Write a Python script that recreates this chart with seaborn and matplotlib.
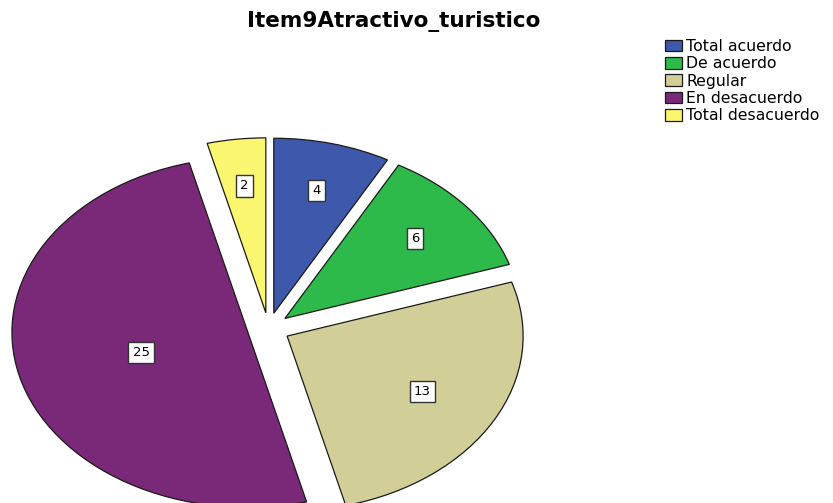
import numpy as np
import matplotlib
matplotlib.use('Agg')
import matplotlib.pyplot as plt
import seaborn as sns

# data
categories = ['Total acuerdo', 'De acuerdo', 'Regular', 'En desacuerdo', 'Total desacuerdo']
counts = [4, 6, 13, 25, 2]
colors = ['#3E58AC', '#2EB94B', '#D2CE98', '#7A2878', '#FBF66F']
title = 'Item9Atractivo_turistico'

sns.set_theme(style='white')
plt.rcParams['font.family'] = ['DejaVu Sans']
plt.rcParams['text.color'] = 'black'

fig = plt.figure(figsize=(8.33, 5.03), dpi=100)

# axes sized so the pie becomes a horizontally stretched ellipse (SPSS look)
W, H = 833, 503
cx, cy = 268.5, 328.5      # pie centre in pixels (from top-left)
rx, ry = 236, 175          # ellipse radii in pixels
L = 1.15
ax = fig.add_axes([(cx - L * rx) / W, (H - cy - L * ry) / H, 2 * L * rx / W, 2 * L * ry / H])

wedges, _ = ax.pie(counts, colors=sns.color_palette(colors), startangle=90, counterclock=False,
                   explode=[0.09] * len(counts),
                   wedgeprops=dict(edgecolor='#1a1a1a', linewidth=0.9))
ax.set_aspect('auto')
ax.set_xlim(-L, L)
ax.set_ylim(-L, L)
ax.axis('off')

# value labels near each wedge's centroid
for w, n in zip(wedges, counts):
    span = np.radians(w.theta2 - w.theta1)
    mid = np.radians((w.theta1 + w.theta2) / 2)
    rc = 4 * np.sin(span / 2) / (3 * span) * 1.1 * w.r
    x = w.center[0] + rc * np.cos(mid)
    y = w.center[1] + rc * np.sin(mid)
    ax.text(x, y, str(n), ha='center', va='center', fontsize=9.5, color='black',
            bbox=dict(boxstyle='square,pad=0.32', facecolor='white', edgecolor='#333333', linewidth=1.0))

fig.text(394 / W, 1 - 22 / H, title, ha='center', va='center', fontsize=15.5, fontweight='bold',
         color='black')

fig.legend(wedges, categories, loc='upper left', bbox_to_anchor=(665 / W, 1 - 39 / H),
           frameon=False, fontsize=11.3, handlelength=1.1, handleheight=0.75,
           handletextpad=0.25, labelspacing=0.15, borderpad=0, borderaxespad=0)

fig.savefig('out.png', dpi=100)
